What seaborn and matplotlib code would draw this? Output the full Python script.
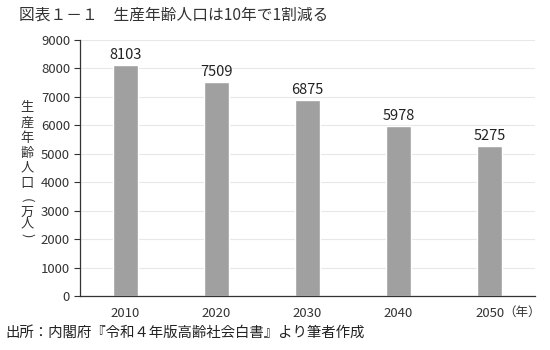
import matplotlib
matplotlib.use("Agg")
import matplotlib.pyplot as plt
import seaborn as sns
import pandas as pd

years = ["2010", "2020", "2030", "2040", "2050"]
population = [8103, 7509, 6875, 5978, 5275]
yticks = [0, 1000, 2000, 3000, 4000, 5000, 6000, 7000, 8000, 9000]
ylabel_chars = ["生", "産", "年", "齢", "人", "口", "(", "万", "人", ")"]

sns.set_theme(style="white")
plt.rcParams['font.family'] = ['Noto Sans CJK JP', 'DejaVu Sans']

df = pd.DataFrame({"year": years, "pop": population})

fig = plt.figure(figsize=(5.5, 3.5), dpi=100)
ax = fig.add_axes([0.145, 0.154, 0.828, 0.732])
sns.barplot(data=df, x="year", y="pop", color="#a0a0a0", width=0.28, ax=ax, saturation=1)
ax.set_xlim(-0.5, 4.5)
ax.set_ylim(0, 9000)
ax.set_yticks(yticks)
ax.set_yticklabels([str(t) for t in yticks], fontsize=9.5, color="#333333")
ax.set_xticklabels(years, fontsize=9.5, color="#333333")
ax.grid(axis="y", color="#e8e8e8", linewidth=0.8)
ax.set_axisbelow(True)
for s in ["top", "right"]:
    ax.spines[s].set_visible(False)
for s in ["left", "bottom"]:
    ax.spines[s].set_color("#333333")
    ax.spines[s].set_linewidth(0.9)
ax.tick_params(axis="y", left=True, length=4, width=0.8, color="#333333", pad=3)
ax.tick_params(axis="x", bottom=False, length=0, pad=8)
ax.set_xlabel("")
ax.set_ylabel("")

for i, v in enumerate(population):
    ax.text(i, v + 120, str(v), ha="center", va="bottom", fontsize=10.5, color="#222222")

fig.text(0.915, 0.108, "（年）", fontsize=9, color="#333333", va="center", ha="left")

# vertical y-axis label, one character per position
ypos = [108, 123, 138, 153, 168, 183, 200, 212, 224, 235]
for ch, yp in zip(ylabel_chars, ypos):
    rot = -90 if ch in ("(", ")") else 0
    fig.text(27 / 550, 1 - yp / 350, ch, fontsize=9.5, color="#333333",
             ha="center", va="center", rotation=rot, rotation_mode="anchor")
fig.text(0.035, 0.957, "図表１－１　生産年齢人口は10年で1割減る", fontsize=11.3, color="#333333",
         ha="left", va="center")
fig.text(0.01, 0.048, "出所：内閣府『令和４年版高齢社会白書』より筆者作成", fontsize=10.4,
         color="#222222", ha="left", va="center")

fig.savefig("out.png", dpi=100)
